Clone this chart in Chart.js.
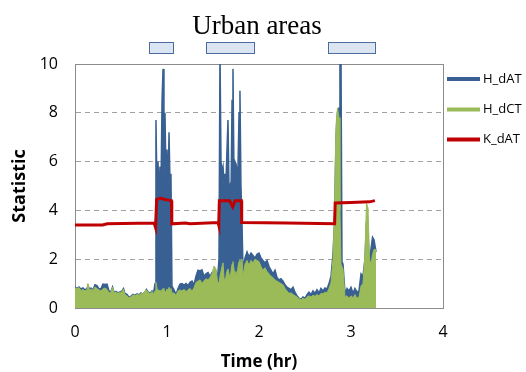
<!DOCTYPE html>
<html lang="en">
<head>
<meta charset="UTF-8">
<title>Urban areas</title>
<script src="https://cdn.jsdelivr.net/npm/chart.js"></script>
<style>
  body { margin: 0; background: #fff; }
  #wrap { width: 526px; height: 372px; }
</style>
</head>
<body>
<div id="wrap"><canvas id="statChart" width="526" height="372"></canvas></div>
<script>
// time (hr) shared by H_dAT and H_dCT
const time = [
  0.000,0.022,0.043,0.065,0.087,0.109,0.130,0.141,0.158,0.174,
  0.196,0.217,0.239,0.261,0.283,0.304,0.326,0.348,0.370,0.391,
  0.408,0.424,0.446,0.467,0.489,0.511,0.527,0.543,0.565,0.587,
  0.609,0.630,0.652,0.674,0.696,0.717,0.739,0.761,0.777,0.793,
  0.815,0.837,0.853,
  0.870,0.880,0.891,0.902,0.913,0.924,0.935,0.946,0.957,0.967,0.978,0.989,1.000,1.011,1.022,1.033,1.043,1.054,
  1.076,1.098,1.120,1.141,1.163,1.185,1.207,1.228,1.250,1.272,1.293,1.315,1.337,1.359,1.380,1.402,1.424,1.446,1.467,1.489,1.511,1.533,1.549,
  1.565,1.576,1.587,1.598,1.609,1.620,1.630,1.641,1.652,1.663,1.674,1.685,1.696,1.707,1.717,1.728,1.739,1.750,1.761,1.772,1.783,1.793,1.804,1.815,1.826,
  1.848,1.870,1.891,1.913,1.935,1.957,1.978,2.000,2.022,2.043,2.065,2.087,2.109,2.130,2.152,2.174,2.196,2.217,2.239,2.261,2.283,2.304,2.326,2.348,2.370,
  2.391,2.413,2.435,2.457,2.478,2.500,2.522,2.543,2.565,2.587,2.609,2.630,2.652,2.674,2.696,2.717,2.739,2.761,2.783,2.804,
  2.821,2.837,2.853,2.870,2.880,2.891,2.902,2.913,
  2.935,2.957,2.978,3.000,3.022,3.043,3.065,3.087,3.109,3.130,3.152,3.168,3.185,3.201,3.217,3.234,3.250,3.272
];

const hdAT = [
  0.85,0.80,0.86,0.78,0.82,0.74,0.80,0.92,0.76,0.82,
  0.74,0.95,0.92,0.78,0.80,0.98,0.96,0.98,0.70,0.66,
  0.86,0.64,0.68,0.62,0.66,0.70,0.80,0.60,0.56,0.44,
  0.48,0.56,0.52,0.58,0.54,0.62,0.56,0.66,0.76,0.66,
  0.60,0.70,0.58,
  1.0,7.7,4.8,6.0,4.6,5.8,5.0,8.5,9.8,5.2,8.0,5.5,6.5,4.8,7.2,5.0,5.5,0.9,
  0.74,0.55,0.80,0.98,1.00,0.94,1.00,0.92,1.05,1.10,0.95,1.30,1.55,1.52,1.56,1.30,1.40,1.45,1.30,1.45,1.55,1.50,1.20,
  2.0,10.5,6.0,5.6,5.8,5.0,5.5,5.2,6.5,7.7,4.8,5.0,4.7,8.5,9.8,5.5,6.0,5.9,5.6,5.8,8.0,8.9,5.0,3.5,1.6,
  2.05,2.30,2.10,2.25,2.15,2.05,2.20,2.25,2.05,1.95,1.85,1.95,1.70,1.55,1.40,1.55,1.25,1.15,1.20,1.10,0.95,0.85,0.80,0.75,0.85,
  0.65,0.50,0.40,0.36,0.45,0.40,0.55,0.65,0.55,0.70,0.60,0.75,0.62,0.80,0.70,0.82,0.78,1.00,1.30,2.20,
  3.50,7.00,8.00,8.20,10.5,10.5,1.90,1.80,
  0.60,0.80,0.70,0.85,0.60,0.80,0.65,0.70,1.40,1.30,2.00,3.50,3.00,1.80,2.40,2.90,2.80,2.30
];

const hdCT = [
  0.82,0.78,0.84,0.72,0.76,0.70,0.74,1.00,0.70,0.78,
  0.72,0.86,0.80,0.74,0.70,0.78,0.82,0.76,0.62,0.64,
  0.86,0.62,0.66,0.60,0.64,0.66,0.78,0.55,0.50,0.42,
  0.46,0.54,0.50,0.56,0.52,0.60,0.58,0.70,0.74,0.64,
  0.58,0.68,0.56,
  0.70,1.05,0.80,0.75,0.70,0.72,0.68,0.75,0.80,0.72,0.70,0.65,0.78,0.70,0.85,0.75,0.80,0.60,
  0.62,0.52,0.70,0.74,0.70,0.76,0.68,0.74,0.80,0.70,0.82,1.05,1.10,1.15,1.00,1.12,1.20,1.15,1.25,1.40,1.72,1.60,1.10,
  1.0,1.3,1.5,1.7,1.85,1.2,1.0,1.3,1.5,1.6,1.4,1.2,1.5,1.8,1.9,1.6,1.3,1.5,1.3,1.7,1.9,2.0,1.6,2.0,1.3,
  1.80,1.95,1.75,1.95,1.85,2.00,1.95,1.90,1.70,1.55,1.65,1.50,1.40,1.30,1.25,1.15,1.10,1.05,1.00,0.95,0.80,0.70,0.60,0.62,0.55,
  0.50,0.45,0.38,0.34,0.40,0.36,0.45,0.50,0.45,0.52,0.48,0.55,0.50,0.60,0.58,0.65,0.62,0.80,1.05,2.00,
  4.00,7.50,8.20,7.80,4.00,1.80,1.70,1.60,
  0.45,0.50,0.40,0.50,0.42,0.55,0.40,0.45,0.90,1.00,2.20,4.30,4.10,2.00,1.80,2.20,2.40,2.40
];

// K_dAT is a step-like threshold, own time base
const kTime = [0.00,0.30,0.35,0.86,0.875,0.888,0.93,0.98,1.048,1.052,1.20,1.25,1.555,1.562,1.569,1.68,1.714,1.74,1.808,1.812,2.30,2.822,2.828,3.00,3.20,3.26];
const kdAT  = [3.40,3.40,3.45,3.48,3.30,4.45,4.50,4.45,4.40,3.45,3.48,3.45,3.50,3.40,4.40,4.40,4.15,4.40,4.40,3.50,3.48,3.45,4.30,4.32,4.35,4.40];

// urban-area markers above the plot (hr)
const urbanStart = [0.80, 1.42, 2.75];
const urbanEnd   = [1.07, 1.95, 3.26];

const xTicks = [0, 1, 2, 3, 4];
const yTicks = [0, 2, 4, 6, 8, 10];

const BLUE = '#386092', GREEN = '#9bbb59', RED = '#c00000';
const uiFont = "'Open Sans', 'Liberation Sans', sans-serif";

function pts(xs, ys) { return ys.map((v, i) => ({ x: xs[i], y: v })); }

// gray box round the plot area
const frame = {
  id: 'frame',
  beforeDatasetsDraw(chart) {
    const a = chart.chartArea, c = chart.ctx;
    c.save();
    c.strokeStyle = '#8c8c8c';
    c.lineWidth = 1;
    c.strokeRect(Math.round(a.left) + 0.5, Math.round(a.top) + 0.5, Math.round(a.right - a.left), Math.round(a.bottom - a.top));
    c.restore();
  }
};

// title and light blue boxes marking urban segments
const urbanBoxes = {
  id: 'urbanBoxes',
  afterDraw(chart) {
    const xs = chart.scales.x, c = chart.ctx;
    c.save();
    c.fillStyle = '#000';
    c.font = "27px 'Liberation Serif', 'Times New Roman', serif";
    c.textAlign = 'center';
    c.textBaseline = 'alphabetic';
    c.fillText('Urban areas', 257, 34);
    c.fillStyle = '#dbe5f1';
    c.strokeStyle = '#4a6c9f';
    c.lineWidth = 1;
    for (let i = 0; i < urbanStart.length; i++) {
      const x0 = Math.round(xs.getPixelForValue(urbanStart[i])) + 0.5;
      const x1 = Math.round(xs.getPixelForValue(urbanEnd[i])) + 0.5;
      c.fillRect(x0, 42.5, x1 - x0, 11);
      c.strokeRect(x0, 42.5, x1 - x0, 11);
    }
    c.restore();
  }
};

// legend to the right of the plot
const sideLegend = {
  id: 'sideLegend',
  afterDraw(chart) {
    const c = chart.ctx;
    const items = [['H_dAT', BLUE], ['H_dCT', GREEN], ['K_dAT', RED]];
    const rows = [79, 109.5, 139.5];
    c.save();
    c.font = '13px ' + uiFont;
    c.textBaseline = 'middle';
    c.fillStyle = '#000';
    items.forEach((it, i) => {
      c.strokeStyle = it[1];
      c.lineWidth = 4;
      c.beginPath();
      c.moveTo(447, rows[i]);
      c.lineTo(480, rows[i]);
      c.stroke();
      c.fillText(it[0], 483, rows[i]);
    });
    c.restore();
  }
};

new Chart(document.getElementById('statChart'), {
  type: 'line',
  data: {
    datasets: [
      { label: 'K_dAT', data: pts(kTime, kdAT), borderColor: RED, borderWidth: 3, fill: false, order: 0 },
      { label: 'H_dCT', data: pts(time, hdCT), borderColor: GREEN, backgroundColor: GREEN, borderWidth: 1, fill: 'origin', order: 1 },
      { label: 'H_dAT', data: pts(time, hdAT), borderColor: BLUE, backgroundColor: BLUE, borderWidth: 1.5, fill: 'origin', order: 2 }
    ]
  },
  options: {
    responsive: false,
    animation: false,
    elements: { point: { radius: 0 }, line: { tension: 0 } },
    layout: { padding: { left: 9, right: 83, top: 64, bottom: 0 } },
    plugins: {
      legend: { display: false },
      tooltip: { enabled: false },
      title: { display: false }
    },
    scales: {
      x: {
        type: 'linear',
        min: 0,
        max: 4,
        afterBuildTicks: s => { s.ticks = xTicks.map(v => ({ value: v })); },
        afterFit: s => { s.height = 64; },
        grid: { display: false, drawTicks: false },
        border: { display: true, color: '#8c8c8c' },
        ticks: { color: '#000', padding: 15, font: { family: uiFont, size: 16 } },
        title: { display: true, text: 'Time (hr)', color: '#000', padding: { top: 0, bottom: 0 },
                 font: { family: uiFont, size: 17, weight: 'bold', lineHeight: 1.2 } }
      },
      y: {
        min: 0,
        max: 10,
        afterBuildTicks: s => { s.ticks = yTicks.map(v => ({ value: v })); },
        afterFit: s => { s.width = 66; },
        grid: {
          drawTicks: false,
          color: ctx => (ctx.tick.value === 0 || ctx.tick.value === 10) ? 'rgba(0,0,0,0)' : '#a0a0a0'
        },
        border: { display: true, color: '#8c8c8c', dash: [5, 4] },
        ticks: { color: '#000', padding: 17, font: { family: uiFont, size: 16 } },
        title: { display: true, text: 'Statistic', color: '#000', padding: { top: 0, bottom: 0 },
                 font: { family: uiFont, size: 18, weight: 'bold', lineHeight: 1.2 } }
      }
    }
  },
  plugins: [frame, urbanBoxes, sideLegend]
});
</script>
</body>
</html>
